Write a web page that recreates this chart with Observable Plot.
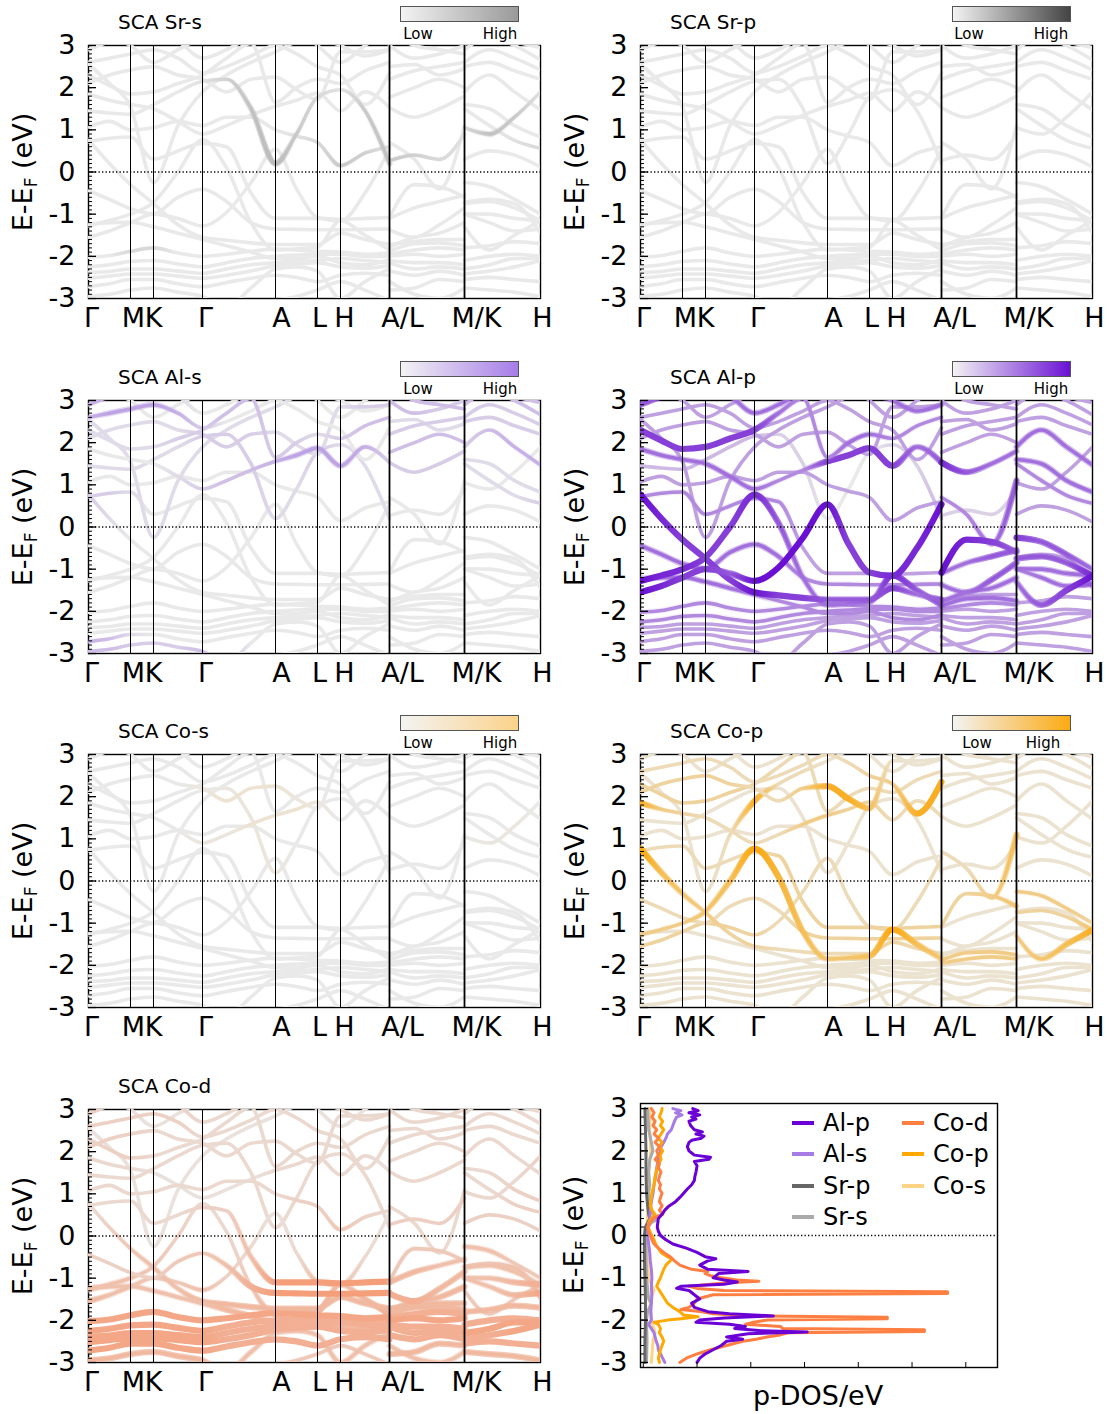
<!DOCTYPE html>
<html><head><meta charset="utf-8">
<script src="https://cdn.jsdelivr.net/npm/d3@7"></script>
<script src="https://cdn.jsdelivr.net/npm/@observablehq/plot@0.6"></script>
<style>
body{margin:0;background:#fff;font-family:"DejaVu Sans",sans-serif;color:#000}
#root{position:relative;width:1109px;height:1414px;overflow:hidden}
.abs{position:absolute;white-space:nowrap}
.title{font-size:20px;line-height:24px}
.lh{font-size:15px;line-height:18px;transform:translate(-50%,-50%)}
.bar{border:1.2px solid #555;box-sizing:border-box}
.ylab{font-size:27px;line-height:30px;transform:translate(-50%,-50%) rotate(-90deg)}
.ylab sub{font-size:17px;vertical-align:-5px}
.leg{font-size:24px;line-height:28px;transform:translateY(-50%)}
</style></head>
<body><div id="root"></div>
<script>
// ---------- k-path ----------
const kTicks = [0, 42, 65, 114, 187, 229, 252, 301, 376, 452];
const kLabels = ["Γ", "M", "K", "Γ", "A", "L", "H", "A/L", "M/K", "H"];
const k1 = [0, 21, 42, 65, 89.5, 114, 138, 162.5, 187, 208, 229, 252, 276.5, 301];
const k2 = [301, 326, 351, 376];
const k3 = [376, 401, 426, 452];

// ---------- bands: Γ-M-K-Γ-A-L-H-A ----------
const bands1 = {
  b01: [-3.35,-3.3,-3.2,-3.15,-3.25,-3.35,-3.3,-3.2,-3.05,-2.95,-2.8,-2.6,-2.8,-3.05],
  b02: [-2.95,-2.9,-2.8,-2.75,-2.85,-2.95,-3.2,-2.75,-2.3,-2.25,-2.35,-3.0,-2.6,-2.3],
  b03: [-2.72,-2.65,-2.55,-2.55,-2.65,-2.72,-2.62,-2.52,-2.45,-2.5,-2.6,-2.45,-2.4,-2.45],
  b04: [-2.52,-2.47,-2.42,-2.42,-2.47,-2.52,-2.45,-2.35,-2.22,-2.18,-2.15,-2.25,-2.28,-2.22],
  b05: [-2.38,-2.36,-2.3,-2.3,-2.35,-2.4,-2.3,-2.2,-2.15,-2.12,-2.1,-2.05,-2.1,-2.15],
  b06: [-2.25,-2.2,-2.12,-2.1,-2.18,-2.25,-2.15,-2.05,-2.0,-1.97,-1.95,-1.95,-2.0,-2.0],
  b07: [-2.02,-1.98,-1.88,-1.8,-1.92,-2.0,-1.95,-1.88,-1.83,-1.85,-1.88,-1.9,-1.95,-1.92],
  b08: [-1.23,-1.2,-1.19,-1.3,-1.45,-1.6,-1.75,-1.9,-2.05,-2.05,-2.0,-2.15,-2.2,-2.08],
  D1:  [0.77,0.2,-0.3,-0.75,-1.25,-1.55,-1.62,-1.68,-1.72,-1.72,-1.72,-1.45,-1.6,-1.72],
  D2:  [-1.28,-1.15,-1.0,-0.72,0.0,0.77,0.1,-1.2,-1.85,-1.82,-1.78,-1.15,-1.5,-1.85],
  D3:  [-1.55,-1.4,-1.2,-1.0,-1.1,-1.28,-0.96,-0.25,0.54,-0.4,-1.08,-1.16,-0.5,0.54],
  D4:  [-0.44,-0.65,-0.87,-0.99,-0.6,-0.41,-0.7,-1.2,-1.35,-1.36,-1.37,-1.37,-1.36,-1.35],
  D5:  [0.72,0.8,0.83,0.3,0.5,0.68,0.6,-0.5,-1.1,-1.1,-1.1,-1.12,-1.1,-1.08],
  S1:  [1.45,1.4,1.37,1.6,1.9,2.15,2.2,1.5,0.2,0.9,1.77,1.95,1.45,0.2],
  U1:  [2.55,2.1,1.55,-0.25,1.1,1.9,2.3,2.6,2.85,3.1,3.3,3.3,3.3,3.1],
  U2:  [1.07,1.2,1.0,1.05,1.2,1.1,1.3,1.3,1.0,0.85,0.7,0.15,0.45,0.6],
  U3:  [1.85,1.7,1.6,1.5,1.2,0.9,1.1,1.35,1.56,1.7,1.87,1.45,1.9,1.53],
  U4:  [2.3,2.05,1.85,1.9,2.1,2.3,2.7,3.05,1.65,2.0,2.2,2.1,2.4,2.6],
  U5:  [2.1,2.3,2.42,2.5,2.3,2.2,1.9,2.2,2.25,1.95,1.72,2.85,2.85,2.9],
  U6:  [2.6,2.7,2.8,2.9,2.7,2.35,2.5,2.75,3.0,2.8,2.5,2.3,1.6,2.35],
  U7:  [2.9,3.1,3.3,3.3,3.1,2.7,2.9,3.2,3.3,3.3,3.2,3.0,2.75,2.9],
  U8:  [3.3,3.2,3.0,2.6,2.9,3.2,3.4,3.4,3.4,3.4,3.0,2.6,3.0,3.4]
};
// ---------- bands: L-M ----------
const bands2 = {
  a1: [-2.8,-2.75,-2.55,-2.6], a2: [-2.6,-2.9,-3.0,-2.75], a3: [-2.35,-2.45,-2.35,-2.45],
  a4: [-2.15,-2.3,-2.25,-2.3], a5: [-2.1,-2.15,-2.15,-2.2], a6: [-2.0,-1.95,-2.0,-1.95],
  a7: [-1.95,-1.85,-1.8,-1.85], a8: [-1.88,-1.7,-1.68,-1.75], a9: [-1.78,-1.55,-1.45,-1.2],
  a10: [-1.72,-1.65,-1.6,-1.6], a11: [-1.37,-1.55,-1.25,-0.85], a12: [-1.1,-0.85,-0.7,-0.55],
  a13: [-1.08,-0.3,-0.35,-0.6], a14: [0.7,0.3,-0.4,1.1], a15: [0.27,0.4,0.3,0.9],
  a16: [1.53,1.3,1.5,1.8], a17: [1.77,2.0,2.2,2.0], a18: [2.2,2.4,2.5,2.6],
  a19: [2.5,2.55,2.3,2.45], a20: [3.0,2.7,2.8,3.0], a21: [3.3,3.0,2.9,2.8]
};
// ---------- bands: K-H ----------
const bands3 = {
  c1: [-3.15,-3.2,-3.3,-3.4], c2: [-2.75,-2.8,-2.85,-2.95], c3: [-2.55,-2.5,-2.55,-2.6],
  c4: [-2.42,-2.35,-2.25,-2.1], c5: [-2.3,-2.2,-2.05,-2.05], c6: [-2.1,-2.0,-1.95,-2.0],
  c7: [-1.8,-1.75,-1.65,-1.7], c8: [-1.0,-1.2,-1.4,-1.35], c9: [-1.3,-1.85,-1.5,-1.16],
  c10: [-0.99,-1.0,-1.1,-1.15], c11: [-0.75,-0.7,-0.85,-1.16], c12: [-0.72,-0.65,-0.75,-1.45],
  c13: [-0.25,-0.35,-0.65,-1.0], c14: [0.3,0.5,0.4,0.12], c15: [1.05,0.9,1.3,1.9],
  c16: [1.5,1.1,0.75,0.56], c17: [1.6,1.5,1.1,0.83], c18: [1.9,2.3,1.9,1.47],
  c19: [2.5,2.6,2.4,2.2], c20: [2.6,2.9,2.7,2.42], c21: [2.9,3.2,3.0,2.66], c22: [3.3,3.3,3.1,2.95]
};

// ---------- projection weights (digit 0-9 per k-point) ----------
const wSrs = { S1:"00000135642145", U2:"00000000012431", b07:"00220000000000", a15:"4321", c15:"2541", c16:"0012" };
const wSrp = {};
const wAls = { U3:"00001233455542", U6:"45554200000000", U7:"44431000000000", b02:"33222330000000",
  b03:"43100000000000", b01:"33333300000000", U5:"11111222111122", U4:"11112233221233", S1:"11111222112111",
  U1:"11111111111111", D1:"21000000000000", D5:"22100000000000",
  a16:"2222", a17:"3333", a18:"2222", a19:"1111", a20:"3322", a21:"3333",
  c16:"1112", c17:"1111", c18:"2344", c19:"2222", c20:"2222", c21:"3333", c22:"3333" };
const wAlp = { D1:"98777977666756", D2:"98877865555866", D3:"98776999977889", D4:"55555554444444",
  D5:"44444443333333", U4:"77777754455444", U3:"55555544777756", S1:"22222211000112",
  b06:"44444444444444", b07:"44444444444444", b08:"55555544444444", U7:"66665555555555",
  a7:"4444", a8:"5555", a9:"5555", a11:"5566", a12:"5566", a13:"9876", a14:"4456", a15:"1111", a16:"8655",
  c8:"4556", c9:"5679", c10:"5555", c11:"6668", c13:"7665", c16:"4444", c17:"5555", c18:"5555" };
const wCos = { U3:"00000112221000", U5:"00000122210000", S1:"00000011100000", c15:"0110" };
const wCop = { D1:"96543322222322", D2:"44456976556965", U3:"84322224433222", U1:"11112822111111",
  U5:"33333224886111", U6:"22222222223488", U4:"33333322222222", D4:"22222223333333",
  D5:"22222233333333", D3:"33333322222222",
  a7:"4444", a8:"4444", a13:"3345", a14:"2246", c9:"4568", c11:"3335", c13:"4443" };
const wCod = { b01:"44444444444444", b02:"66666655555555", b03:"88888877777777", b04:"88888877777777",
  b05:"88888877777777", b06:"88888877777777", b07:"88888888888888", b08:"55555566666666",
  D1:"23455666666666", D2:"55543224777567", D3:"65544532125521", D4:"33334457999999",
  D5:"22222335999999", U2:"22222222233432", U3:"22211111222221", U4:"33322222222222",
  U5:"33322222222222", U6:"33333222222222", U7:"33333222222222", S1:"22222222222222",
  a1:"6666", a2:"5555", a3:"7777", a4:"7777", a5:"7777", a6:"8888", a7:"7777", a8:"6666",
  a9:"6666", a10:"6666", a11:"7766", a12:"6655", a13:"4444", a14:"2222", a15:"3333",
  a16:"2222", a17:"2222", a18:"2222", a19:"2222", a20:"2222", a21:"2222",
  c1:"5555", c2:"6666", c3:"7777", c4:"7788", c5:"8888", c6:"7777", c7:"6666", c8:"5568",
  c9:"4444", c10:"5567", c11:"5555", c12:"4456", c13:"5544", c14:"3333", c15:"2223",
  c16:"2233", c17:"2233", c18:"2222", c19:"2222", c20:"2222", c21:"2222", c22:"2222" };

// ---------- DOS [E, value] ----------
const dosAlp = [[3.0,0.92],[2.95,1.02],[2.9,0.85],[2.85,1.05],[2.8,0.9],[2.75,0.98],[2.7,0.85],[2.6,0.88],[2.5,0.95],[2.45,1.1],[2.4,0.98],[2.35,1.13],[2.3,1.08],[2.25,0.9],[2.2,0.85],[2.1,0.82],[2.0,0.85],[1.95,0.9],[1.9,0.95],[1.85,1.25],[1.8,1.22],[1.75,0.95],[1.65,1.0],[1.5,0.98],[1.4,0.96],[1.3,0.95],[1.2,0.9],[1.1,0.82],[1.0,0.75],[0.9,0.68],[0.8,0.6],[0.7,0.48],[0.6,0.4],[0.5,0.35],[0.4,0.28],[0.3,0.27],[0.2,0.26],[0.1,0.28],[0.0,0.32],[-0.1,0.42],[-0.2,0.55],[-0.3,0.8],[-0.4,1.0],[-0.5,1.15],[-0.55,1.35],[-0.6,1.2],[-0.7,1.05],[-0.8,1.2],[-0.85,1.95],[-0.9,1.4],[-1.0,1.3],[-1.05,1.5],[-1.1,1.75],[-1.15,1.5],[-1.2,0.7],[-1.25,0.62],[-1.3,0.85],[-1.4,0.95],[-1.5,1.05],[-1.6,0.9],[-1.7,0.95],[-1.8,1.2],[-1.85,1.6],[-1.9,2.42],[-1.95,1.5],[-2.0,1.05],[-2.05,0.98],[-2.1,1.6],[-2.15,1.9],[-2.2,1.7],[-2.25,2.2],[-2.28,3.05],[-2.32,1.95],[-2.4,1.55],[-2.45,1.85],[-2.5,1.55],[-2.6,1.45],[-2.7,1.3],[-2.8,1.15],[-2.9,1.05],[-3.0,1.0]];
const dosCod = [[3.0,0.15],[2.9,0.2],[2.8,0.16],[2.7,0.22],[2.6,0.18],[2.5,0.25],[2.4,0.2],[2.3,0.28],[2.2,0.22],[2.1,0.3],[2.0,0.25],[1.9,0.28],[1.8,0.22],[1.7,0.3],[1.6,0.28],[1.5,0.33],[1.4,0.3],[1.3,0.28],[1.2,0.32],[1.1,0.3],[1.0,0.35],[0.9,0.32],[0.8,0.3],[0.7,0.35],[0.6,0.3],[0.5,0.36],[0.45,0.25],[0.4,0.18],[0.3,0.12],[0.2,0.08],[0.1,0.1],[0.0,0.13],[-0.1,0.16],[-0.2,0.2],[-0.3,0.28],[-0.4,0.38],[-0.5,0.5],[-0.6,0.58],[-0.7,0.68],[-0.8,0.9],[-0.85,1.2],[-0.9,1.15],[-0.95,1.25],[-1.0,1.45],[-1.05,1.75],[-1.08,2.15],[-1.12,1.5],[-1.2,0.85],[-1.25,1.0],[-1.3,1.5],[-1.33,5.66],[-1.37,5.66],[-1.4,1.3],[-1.5,1.0],[-1.6,0.95],[-1.7,0.85],[-1.75,0.7],[-1.8,1.1],[-1.85,1.3],[-1.9,2.0],[-1.93,4.54],[-1.97,4.54],[-2.0,2.3],[-2.05,2.05],[-2.1,1.9],[-2.15,2.55],[-2.2,2.6],[-2.23,5.23],[-2.27,5.23],[-2.3,2.7],[-2.35,2.55],[-2.4,2.3],[-2.45,2.1],[-2.5,1.85],[-2.6,1.55],[-2.7,1.25],[-2.8,1.0],[-2.9,0.8],[-3.0,0.68]];
const dosCop = [[3.0,0.35],[2.9,0.33],[2.8,0.3],[2.7,0.36],[2.6,0.32],[2.5,0.38],[2.4,0.33],[2.3,0.28],[2.2,0.35],[2.1,0.3],[2.0,0.36],[1.9,0.31],[1.8,0.33],[1.7,0.28],[1.6,0.26],[1.5,0.24],[1.4,0.22],[1.3,0.21],[1.2,0.2],[1.1,0.18],[1.0,0.16],[0.9,0.15],[0.8,0.14],[0.7,0.13],[0.6,0.16],[0.5,0.22],[0.4,0.15],[0.3,0.1],[0.2,0.09],[0.1,0.12],[0.0,0.16],[-0.1,0.2],[-0.2,0.23],[-0.3,0.28],[-0.4,0.33],[-0.5,0.45],[-0.55,0.52],[-0.6,0.5],[-0.7,0.42],[-0.8,0.38],[-0.9,0.35],[-1.0,0.32],[-1.1,0.28],[-1.2,0.25],[-1.3,0.3],[-1.4,0.35],[-1.5,0.4],[-1.6,0.45],[-1.7,0.55],[-1.8,0.68],[-1.88,0.75],[-1.92,1.02],[-1.97,0.7],[-2.0,0.45],[-2.05,0.2],[-2.1,0.28],[-2.2,0.32],[-2.3,0.3],[-2.4,0.35],[-2.5,0.38],[-2.6,0.35],[-2.7,0.32],[-2.8,0.3],[-2.9,0.28],[-3.0,0.3]];
const dosAls = [[3.0,0.55],[2.95,0.7],[2.9,0.6],[2.85,0.72],[2.8,0.62],[2.7,0.58],[2.6,0.55],[2.5,0.52],[2.4,0.45],[2.3,0.42],[2.2,0.38],[2.1,0.33],[2.0,0.32],[1.8,0.28],[1.6,0.25],[1.4,0.23],[1.2,0.2],[1.0,0.18],[0.8,0.15],[0.6,0.13],[0.4,0.12],[0.2,0.1],[0.0,0.08],[-0.2,0.1],[-0.4,0.12],[-0.6,0.13],[-0.8,0.15],[-1.0,0.16],[-1.2,0.15],[-1.4,0.16],[-1.6,0.15],[-1.8,0.14],[-2.0,0.15],[-2.1,0.1],[-2.2,0.15],[-2.3,0.2],[-2.4,0.22],[-2.5,0.24],[-2.6,0.27],[-2.7,0.28],[-2.8,0.32],[-2.9,0.36],[-3.0,0.4]];
const dosSrp = [[3.0,0.03],[2.5,0.04],[2.0,0.05],[1.5,0.05],[1.0,0.06],[0.7,0.08],[0.5,0.1],[0.4,0.12],[0.3,0.08],[0.2,0.04],[0.0,0.02],[-0.5,0.02],[-1.0,0.03],[-1.5,0.04],[-2.0,0.04],[-2.5,0.03],[-3.0,0.03]];
const dosSrs = [[3.0,0.08],[2.5,0.1],[2.2,0.15],[2.0,0.18],[1.8,0.12],[1.5,0.1],[1.2,0.12],[1.0,0.1],[0.8,0.12],[0.6,0.15],[0.45,0.2],[0.38,0.25],[0.3,0.15],[0.2,0.08],[0.0,0.05],[-0.5,0.05],[-1.0,0.06],[-1.5,0.1],[-1.6,0.15],[-1.8,0.08],[-2.0,0.06],[-2.5,0.07],[-3.0,0.06]];
const dosCos = [[3.0,0.12],[2.5,0.12],[2.0,0.14],[1.5,0.1],[1.0,0.09],[0.5,0.08],[0.0,0.06],[-0.5,0.07],[-1.0,0.1],[-1.3,0.2],[-1.5,0.12],[-2.0,0.15],[-2.3,0.22],[-2.5,0.18],[-3.0,0.15]];

const yMajor = [-3, -2, -1, 0, 1, 2, 3];
const dosXTicks = [0, 1, 2, 3, 4, 5, 6];

// ---------- styles / layout ----------
const lowColor = "#e9e9e9";
const FONT = "DejaVu Sans";
const rowTops = [45, 400, 754, 1109];
const colLefts = [88, 640];
const plotW = 452, plotH = 253;
const labelDx = [3, 3, 0, 3, 6, 2, 4, 13, 12, 2];
const thickTick = [false, false, false, false, false, false, true, true, false];
const panels = [
  {id:"srs", title:"SCA Sr-s", row:0, col:0, high:"#a2a2a2", bar:"#9a9a9a", w:wSrs, def:0, lo:330, hi:412},
  {id:"srp", title:"SCA Sr-p", row:0, col:1, high:"#555555", bar:"#444444", w:wSrp, def:0, lo:329, hi:411},
  {id:"als", title:"SCA Al-s", row:1, col:0, high:"#9a69e0", bar:"#a67de8", w:wAls, def:0, lo:330, hi:412},
  {id:"alp", title:"SCA Al-p", row:1, col:1, high:"#6a10d2", bar:"#6a12d4", w:wAlp, def:3, lo:329, hi:411},
  {id:"cos", title:"SCA Co-s", row:2, col:0, high:"#fbcf80", bar:"#fbd38a", w:wCos, def:0, lo:330, hi:412},
  {id:"cop", title:"SCA Co-p", row:2, col:1, high:"#fba80c", bar:"#fbaa12", w:wCop, def:1, lo:337, hi:403},
  {id:"cod", title:"SCA Co-d", row:3, col:0, high:"#f49f7a", bar:null, w:wCod, def:1}
];
const pieces = [{k:k1, bands:bands1}, {k:k2, bands:bands2}, {k:k3, bands:bands3}];

const root = document.getElementById("root");
function addDiv(cls, x, y, html, extra) {
  const d = document.createElement("div");
  d.className = "abs " + cls;
  d.style.left = x + "px"; d.style.top = y + "px";
  d.innerHTML = html;
  if (extra) Object.assign(d.style, extra);
  root.appendChild(d);
  return d;
}

function axisMarks(W, yTicksMinor) {
  return [
    Plot.ruleY(yTicksMinor, {stroke:"#000", strokeWidth:1, insetRight: W - 4}),
    Plot.ruleY(yMajor, {stroke:"#000", strokeWidth:1.3, insetRight: W - 8}),
    Plot.text(yMajor, {y: d => d, text: d => String(d), frameAnchor:"left", dx:-13, textAnchor:"end", fontSize:27})
  ];
}

function bandPanel(p) {
  const interp = d3.interpolateRgb(lowColor, p.high);
  const items = [];
  pieces.forEach(pc => {
    Object.entries(pc.bands).forEach(([name, vals]) => {
      const s = p.w[name] || String(p.def).repeat(pc.k.length);
      const ws = Array.from(s, c => +c / 9);
      items.push({name, k: pc.k, data: pc.k.map((k, i) => ({k, e: vals[i]})), ws});
    });
  });
  items.sort((a, b) => d3.mean(a.ws) - d3.mean(b.ws));
  const marks = [Plot.frame({stroke:"#000", strokeWidth:1.4})];
  const grads = [];
  items.forEach((it, j) => {
    const idA = `${p.id}A${j}`;
    grads.push({id:idA, it, thick:false});
    marks.push(Plot.line(it.data, {x:"k", y:"e", stroke:`url(#${idA})`, strokeWidth:3.6, curve:"monotone-x", clip:true}));
    if (d3.max(it.ws) > 0.4) {
      const idB = `${p.id}B${j}`;
      grads.push({id:idB, it, thick:true});
      marks.push(Plot.line(it.data, {x:"k", y:"e", stroke:`url(#${idB})`, strokeWidth:6.2, curve:"monotone-x", clip:true}));
    }
  });
  const inner = kTicks.slice(1, -1);
  marks.push(Plot.ruleX(inner.filter((d, i) => !thickTick[i]), {stroke:"#000", strokeWidth:1}));
  marks.push(Plot.ruleX(inner.filter((d, i) => thickTick[i]), {stroke:"#000", strokeWidth:1.8}));
  marks.push(Plot.ruleY([0], {stroke:"#000", strokeWidth:1.3, strokeDasharray:"1.3,2.2"}));
  marks.push(...axisMarks(plotW, d3.range(-30, 31).map(i => i / 10)));
  const xl = kTicks.map((k, i) => ({k, label:kLabels[i]}));
  xl.forEach((d, i) => marks.push(Plot.text([d], {x:"k", text:"label", frameAnchor:"bottom", dy:28, dx:labelDx[i], fontSize:27})));
  const svg = Plot.plot({
    width: 88 + plotW + 15, height: 10 + plotH + 40,
    marginLeft: 88, marginRight: 15, marginTop: 10, marginBottom: 40,
    x: {domain:[0, 452], axis:null}, y: {domain:[-3, 3], axis:null},
    style: {fontFamily: FONT, fontSize:"27px", background:"transparent", overflow:"visible"},
    marks
  });
  const defs = d3.select(svg).insert("defs", ":first-child");
  grads.forEach(g => {
    const lg = defs.append("linearGradient").attr("id", g.id).attr("x1", 0).attr("x2", 1).attr("y1", 0).attr("y2", 0);
    const ka = g.it.k[0], kb = g.it.k[g.it.k.length - 1];
    g.it.k.forEach((k, i) => {
      const w = g.it.ws[i];
      lg.append("stop").attr("offset", (k - ka) / (kb - ka)).attr("stop-color", interp(w))
        .attr("stop-opacity", g.thick ? Math.max(0, Math.min(1, (w - 0.4) / 0.35)) : 1);
    });
  });
  const top = rowTops[p.row], left = colLefts[p.col];
  svg.style.position = "absolute";
  svg.style.left = (left - 88) + "px";
  svg.style.top = (top - 10) + "px";
  root.appendChild(svg);
  addDiv("title", left + 30, top - 35, p.title);
  if (p.bar) {
    addDiv("bar", left + 312, top - 39, "", {width:"119px", height:"16px", background:`linear-gradient(to right, #f3f3f3, ${p.bar})`});
    addDiv("lh", left + p.lo, top - 11, "Low");
    addDiv("lh", left + p.hi, top - 11, "High");
  }
  addDiv("ylab", left - 61, top + plotH / 2, "E-E<sub>F</sub> (eV)");
}
panels.forEach(bandPanel);

// ---------- DOS panel ----------
const dosSeries = [
  {name:"Co-s", data:dosCos, color:"#ffd385"},
  {name:"Sr-s", data:dosSrs, color:"#aaaaaa"},
  {name:"Sr-p", data:dosSrp, color:"#666666"},
  {name:"Al-s", data:dosAls, color:"#a77be6"},
  {name:"Co-p", data:dosCop, color:"#ffa800"},
  {name:"Co-d", data:dosCod, color:"#ff7f42"},
  {name:"Al-p", data:dosAlp, color:"#6a00d6"}
];
(function dosPanel() {
  const W = 357, H = 264, top = 1103, left = 640;
  const marks = [Plot.frame({stroke:"#000", strokeWidth:1.4})];
  marks.push(Plot.ruleY([0], {stroke:"#000", strokeWidth:1.3, strokeDasharray:"1.3,2.2"}));
  dosSeries.forEach(s => marks.push(Plot.line(s.data, {x: d => d[1], y: d => d[0], stroke:s.color, strokeWidth:3, clip:true})));
  marks.push(Plot.ruleX(dosXTicks, {stroke:"#000", strokeWidth:1, insetTop: H - 5}));
  marks.push(...axisMarks(W, d3.range(-15, 16).map(i => i / 5)));
  const svg = Plot.plot({
    width: 88 + W + 12, height: 10 + H + 50,
    marginLeft: 88, marginRight: 12, marginTop: 10, marginBottom: 50,
    x: {domain:[-0.052, 6.59], axis:null}, y: {domain:[-3.12, 3.12], axis:null},
    style: {fontFamily: FONT, fontSize:"27px", background:"transparent", overflow:"visible"},
    marks
  });
  svg.style.position = "absolute";
  svg.style.left = (left - 88) + "px";
  svg.style.top = (top - 10) + "px";
  root.appendChild(svg);
  addDiv("ylab", left - 62, 1235, "E-E<sub>F</sub> (eV)");
  addDiv("", 818, 1395, "p-DOS/eV", {fontSize:"27px", transform:"translate(-50%,-50%)"});
  const legend = [
    {name:"Al-p", color:"#6a00d6", x:792, y:1123}, {name:"Al-s", color:"#a77be6", x:792, y:1154},
    {name:"Sr-p", color:"#666666", x:792, y:1186}, {name:"Sr-s", color:"#aaaaaa", x:792, y:1217},
    {name:"Co-d", color:"#ff7f42", x:902, y:1123}, {name:"Co-p", color:"#ffa800", x:902, y:1154},
    {name:"Co-s", color:"#ffd385", x:902, y:1186}
  ];
  legend.forEach(l => {
    addDiv("", l.x, l.y - 2, "", {width:"22px", height:"4px", background:l.color});
    addDiv("leg", l.x + 31, l.y, l.name);
  });
})();
</script></body></html>
